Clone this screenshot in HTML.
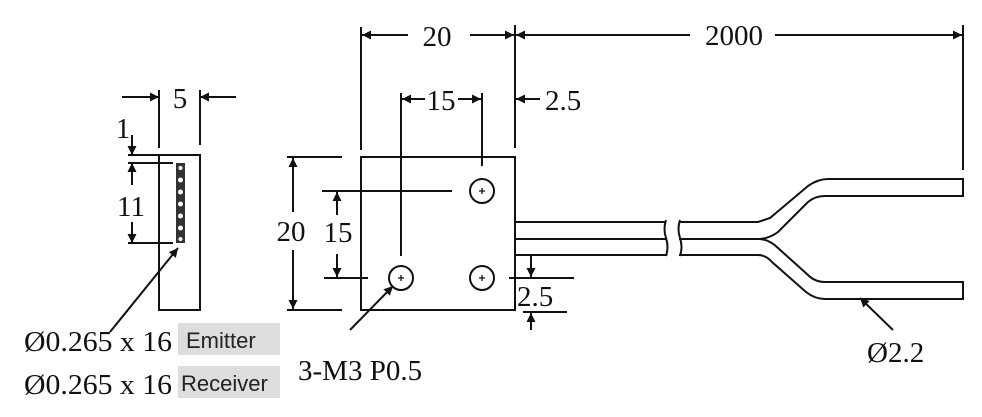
<!DOCTYPE html>
<html><head><style>
body{margin:0;background:#fff;}
svg{display:block}
.s{font-family:"Liberation Serif",serif;font-size:29px;fill:#111}
.a{font-family:"Liberation Sans",sans-serif;font-size:22px;fill:#222}
</style></head><body>
<svg width="982" height="417" viewBox="0 0 982 417">
<defs>
<marker id="ar" viewBox="0 0 10 10" refX="10" refY="5" markerWidth="15" markerHeight="9" orient="auto-start-reverse" markerUnits="userSpaceOnUse"><path d="M0,0L10,5L0,10z" fill="#111"/></marker>
</defs>
<g stroke="#111" stroke-width="2" fill="none">
<rect x="159" y="155" width="41" height="155"/>
<line x1="159" y1="90" x2="159" y2="148"/><line x1="200" y1="90" x2="200" y2="145"/>
<line x1="122" y1="97" x2="159" y2="97" marker-end="url(#ar)"/>
<line x1="236" y1="97" x2="200" y2="97" marker-end="url(#ar)"/>
<line x1="128" y1="155" x2="159" y2="155"/><line x1="128" y1="163" x2="173" y2="163"/><line x1="128" y1="243" x2="173" y2="243"/>
<line x1="132" y1="135" x2="132" y2="155" marker-end="url(#ar)"/>
<line x1="132" y1="185" x2="132" y2="163" marker-end="url(#ar)"/>
<line x1="132" y1="222" x2="132" y2="243" marker-end="url(#ar)"/>
<line x1="110" y1="332" x2="178" y2="248" marker-end="url(#ar)"/>
<rect x="361" y="157" width="154" height="153"/>
<line x1="361" y1="27" x2="361" y2="150"/><line x1="515" y1="25" x2="515" y2="148"/>
<line x1="408" y1="35" x2="362" y2="35" marker-end="url(#ar)"/>
<line x1="470" y1="35" x2="514" y2="35" marker-end="url(#ar)"/>
<line x1="690" y1="35" x2="516" y2="35" marker-end="url(#ar)"/>
<line x1="775" y1="35" x2="962" y2="35" marker-end="url(#ar)"/>
<line x1="963" y1="25" x2="963" y2="170"/>
<line x1="401" y1="93" x2="401" y2="256"/><line x1="482" y1="93" x2="482" y2="166"/>
<line x1="425" y1="99" x2="402" y2="99" marker-end="url(#ar)"/>
<line x1="458" y1="99" x2="481" y2="99" marker-end="url(#ar)"/>
<line x1="540" y1="99" x2="516" y2="99" marker-end="url(#ar)"/>
<line x1="322" y1="191" x2="452" y2="191"/>
<line x1="324" y1="278" x2="368" y2="278"/><line x1="509" y1="278" x2="574" y2="278"/>
<line x1="287" y1="157" x2="342" y2="157"/><line x1="287" y1="310" x2="342" y2="310"/>
<line x1="293" y1="212" x2="293" y2="158" marker-end="url(#ar)"/>
<line x1="293" y1="250" x2="293" y2="309" marker-end="url(#ar)"/>
<line x1="337" y1="215" x2="337" y2="192" marker-end="url(#ar)"/>
<line x1="337" y1="254" x2="337" y2="277" marker-end="url(#ar)"/>
<circle cx="482" cy="191" r="12"/><circle cx="401" cy="278" r="12"/><circle cx="482" cy="278" r="12"/>
<g stroke-width="1.3"><path d="M479,191h6M482,188v6M398,278h6M401,275v6M479,278h6M482,275v6"/></g>
<line x1="350" y1="330" x2="393" y2="286" marker-end="url(#ar)"/>
<path d="M515,222 H666 M515,239 H666 M515,255 H666"/>
<path d="M666,220 q-3,9 0,18 q3,9 0,18"/>
<path d="M680,220 q-3,9 0,18 q3,9 0,18"/>
<path d="M679,222 H758 L770,218 L808,186 Q818,179 828,179 H963 V196 H825 Q815,196 808,202 L778,232 Q770,238 760,239 H679"/>
<path d="M679,255 H758 Q766,255 772,262 L806,292 Q815,299 825,299 H963 V282 H825 Q815,282 808,275 L778,248 Q770,240 760,239"/>
<line x1="531" y1="256" x2="531" y2="277" marker-end="url(#ar)"/>
<line x1="523" y1="312" x2="567" y2="312"/>
<line x1="531" y1="330" x2="531" y2="313" marker-end="url(#ar)"/>
<line x1="893" y1="330" x2="860" y2="298" marker-end="url(#ar)"/>
</g>
<rect x="176" y="163" width="9" height="80" fill="#333"/>
<g fill="#fff"><circle cx="180.5" cy="168" r="2"/><circle cx="180.5" cy="180" r="2.5"/><circle cx="180.5" cy="192" r="2.5"/><circle cx="180.5" cy="204" r="2.5"/><circle cx="180.5" cy="216" r="2.5"/><circle cx="180.5" cy="228" r="2.5"/><circle cx="180.5" cy="239" r="2"/></g>
<text class="s" x="180" y="108" text-anchor="middle">5</text>
<text class="s" x="123" y="138" text-anchor="middle">1</text>
<text class="s" x="131" y="216" text-anchor="middle">11</text>
<text class="s" x="437" y="46" text-anchor="middle">20</text>
<text class="s" x="734" y="45" text-anchor="middle">2000</text>
<text class="s" x="441" y="110" text-anchor="middle">15</text>
<text class="s" x="545" y="110">2.5</text>
<text class="s" x="291" y="241" text-anchor="middle">20</text>
<text class="s" x="338" y="242" text-anchor="middle">15</text>
<text class="s" x="517" y="306">2.5</text>
<text class="s" x="867" y="362">Ø2.2</text>
<text class="s" x="298" y="380">3-M3 P0.5</text>
<rect x="178" y="323" width="102" height="32" fill="#ddd"/>
<rect x="178" y="366" width="102" height="32" fill="#ddd"/>
<text class="s" x="24" y="351" textLength="148" lengthAdjust="spacingAndGlyphs">Ø0.265 x 16</text>
<text class="s" x="24" y="394" textLength="148" lengthAdjust="spacingAndGlyphs">Ø0.265 x 16</text>
<text class="a" x="186" y="348">Emitter</text>
<text class="a" x="181" y="391">Receiver</text>
</svg>
</body></html>
